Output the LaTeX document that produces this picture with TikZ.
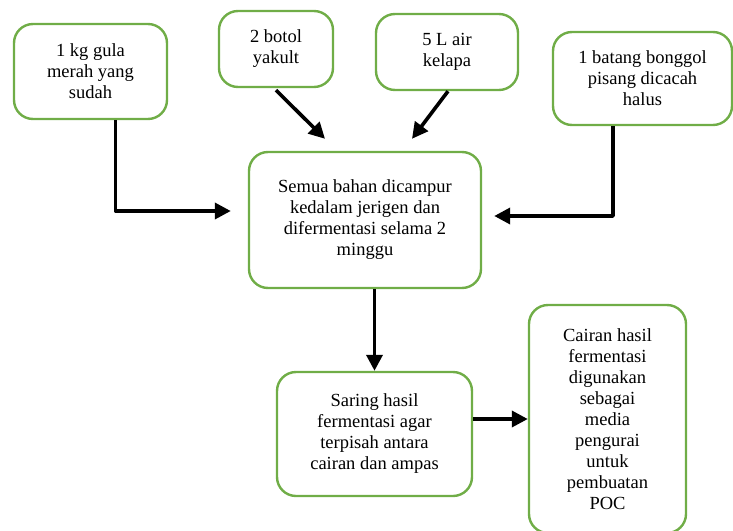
\documentclass[tikz,border=0pt]{standalone}
\usepackage{fontspec}
\setmainfont{Liberation Serif}
\usetikzlibrary{arrows.meta,calc}
\definecolor{boxgreen}{RGB}{112,173,71}
\begin{document}
\begin{tikzpicture}[x=1pt,y=-1pt,line join=round,
  box/.style={draw=boxgreen,line width=2.4pt,rounded corners=19pt,align=center,
    inner sep=0pt,font=\fontsize{18.5}{21}\selectfont},
  flow/.style={line width=3.6pt,-{Triangle[length=16pt,width=16pt]}}]
  \clip (0,0) rectangle (733,530);
  \node[box,minimum width=153pt,minimum height=95pt] (gula) at (90.5,71.5) {1 kg gula\\merah yang\\sudah};
  \node[box,minimum width=114pt,minimum height=76pt] (yakult) at (276,49) {2 botol\\yakult};
  \node[box,minimum width=142pt,minimum height=76pt] (kelapa) at (447,52) {5 L air\\kelapa};
  \node[box,minimum width=179pt,minimum height=93pt] (bonggol) at (642.5,78.5) {1 batang bonggol\\pisang dicacah\\halus};
  \node[box,minimum width=232pt,minimum height=136pt] (campur) at (365,220) {Semua bahan dicampur\\kedalam jerigen dan\\difermentasi selama 2\\minggu};
  \node[box,minimum width=195pt,minimum height=124pt] (saring) at (374.5,434) {Saring hasil\\fermentasi agar\\terpisah antara\\cairan dan ampas};
  \node[box,minimum width=157pt,minimum height=228pt] (cairan) at (607.5,419) {Cairan hasil\\fermentasi\\digunakan\\sebagai\\media\\pengurai\\untuk\\pembuatan\\POC};
  \draw[flow] ([xshift=25pt]gula.south) |- ([xshift=-17pt,yshift=9pt]campur.west);
  \draw[flow] ([yshift=-2pt]yakult.south) -- ([xshift=-40pt,yshift=12pt]campur.north);
  \draw[flow] ([xshift=1pt]kelapa.south) -- ([xshift=47pt,yshift=12pt]campur.north);
  \draw[flow] ([xshift=-29.5pt]bonggol.south) |- ([xshift=12pt,yshift=4pt]campur.east);
  \draw[flow] (campur.south -| saring.north) -- (saring.north);
  \draw[flow] (saring.east |- cairan.west) -- (cairan.west);
\end{tikzpicture}
\end{document}
